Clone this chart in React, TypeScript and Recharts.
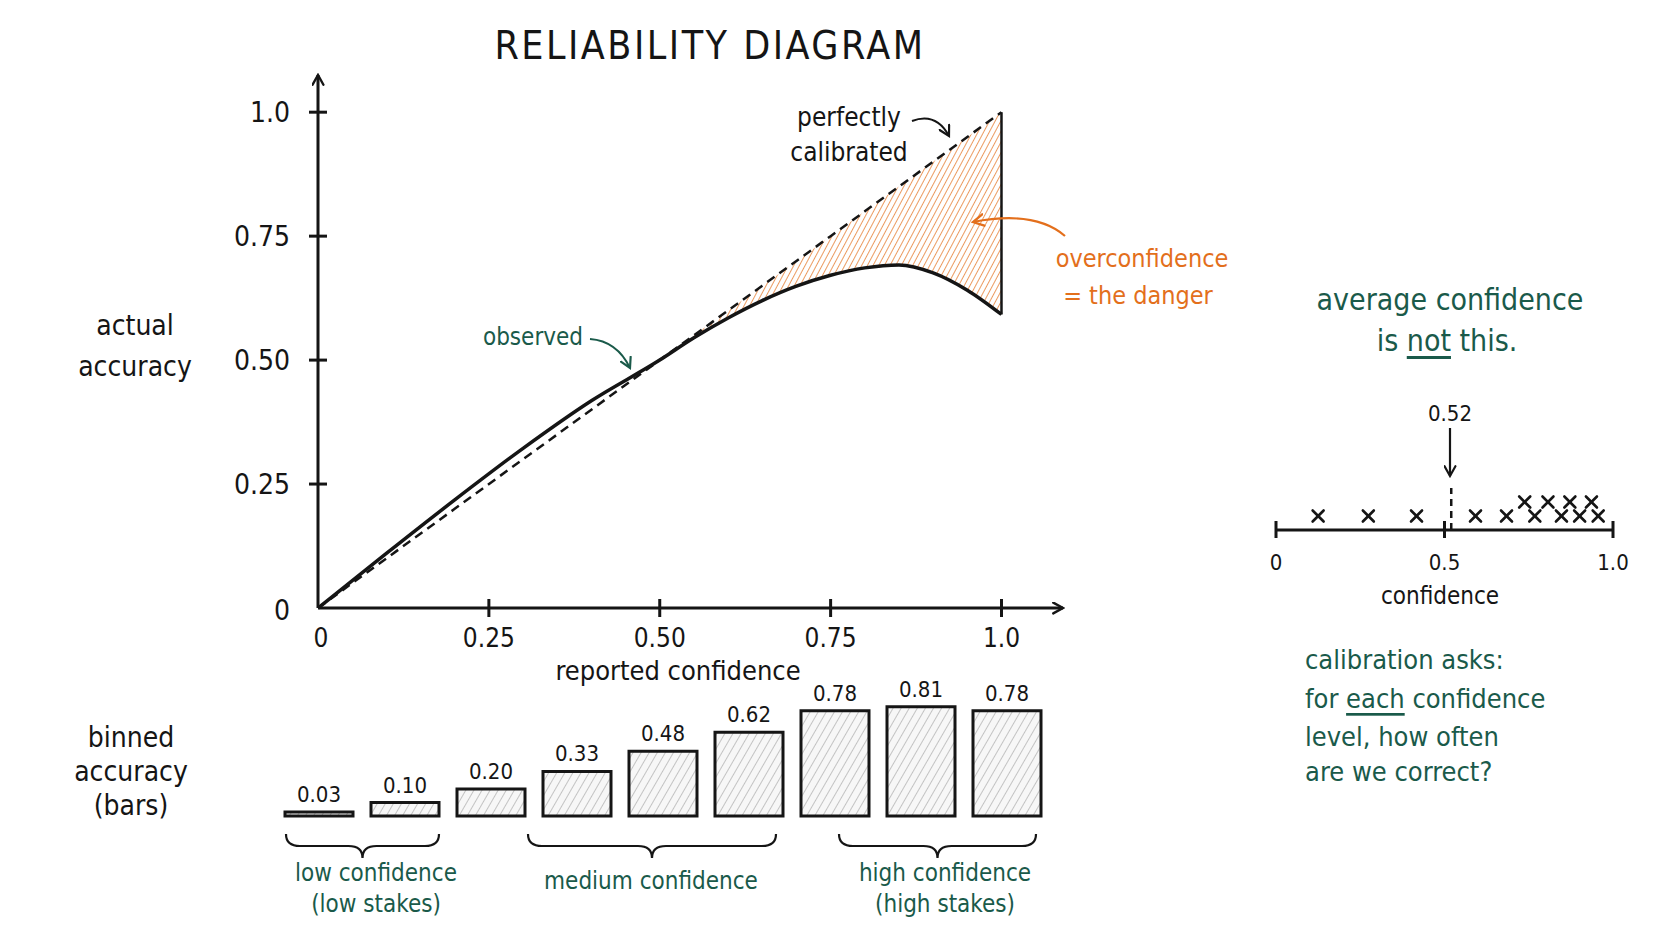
import React from 'react';
import {
  ComposedChart, Line, Area, XAxis, YAxis, ReferenceLine,
  BarChart, Bar, LabelList, ScatterChart, Scatter,
} from 'recharts';

// reliability curve
const confGrid = [0, 0.1, 0.2, 0.3, 0.4, 0.5, 0.55, 0.6, 0.65, 0.7, 0.75, 0.8, 0.85, 0.9, 0.95, 1.0];
const observedAcc = [0, 0.11, 0.218, 0.322, 0.418, 0.5, 0.545, 0.585, 0.62, 0.649, 0.671, 0.686, 0.692, 0.676, 0.641, 0.592];
const gapStart = 0.55;
const mainTicks = [0, 0.25, 0.5, 0.75, 1.0];
const mainTickLabels = ['0', '0.25', '0.50', '0.75', '1.0'];

// binned accuracy bars
const binNames = ['b1', 'b2', 'b3', 'b4', 'b5', 'b6', 'b7', 'b8', 'b9'];
const binAccuracy = [0.03, 0.1, 0.2, 0.33, 0.48, 0.62, 0.78, 0.81, 0.78];
const binLabels = ['0.03', '0.10', '0.20', '0.33', '0.48', '0.62', '0.78', '0.81', '0.78'];

// individual confidences (two stacked rows of x marks)
const rowOneConf = [0.125, 0.274, 0.417, 0.592, 0.684, 0.768, 0.847, 0.901, 0.956];
const rowTwoConf = [0.738, 0.807, 0.872, 0.936];
const meanConfidence = 0.52;
const dotTicks = [0, 0.5, 1.0];
const dotTickLabels = ['0', '0.5', '1.0'];

const INK = '#151515';
const TEAL = '#1a5a4a';
const ORANGE = '#e36f1c';
const FONT = "'Liberation Sans Narrow', 'DejaVu Sans Condensed', Roboto, sans-serif";

const mainData = confGrid.map((x, i) => ({
  x,
  diag: x,
  obs: observedAcc[i],
  gap: x >= gapStart ? [observedAcc[i], x] : undefined,
}));
const barData = binNames.map((name, i) => ({ name, acc: binAccuracy[i], label: binLabels[i] }));
const rowOne = rowOneConf.map((c) => ({ c, row: 1 }));
const rowTwo = rowTwoConf.map((c) => ({ c, row: 2 }));

const MainYTick = (props: any) => {
  const { x, y, payload } = props;
  const v = payload.value;
  const label = mainTickLabels[mainTicks.indexOf(v)];
  return (
    <g>
      {v > 0 && <line x1={x - 9} x2={x + 9} y1={y} y2={y} stroke={INK} strokeWidth={3} />}
      <text x={x - 28} y={y + (v === 0 ? 2 : 0)} textAnchor="end" dominantBaseline="central"
        fontSize={28} fontFamily={FONT} fill={INK}>{label}</text>
    </g>
  );
};

const MainXTick = (props: any) => {
  const { x, y, payload } = props;
  const v = payload.value;
  const label = mainTickLabels[mainTicks.indexOf(v)];
  return (
    <g>
      {v > 0 && <line x1={x} x2={x} y1={y - 9} y2={y + 9} stroke={INK} strokeWidth={3} />}
      <text x={x + (v === 0 ? 3 : 0)} y={y + 30} textAnchor="middle" dominantBaseline="central"
        fontSize={26} fontFamily={FONT} fill={INK}>{label}</text>
    </g>
  );
};

const DotXTick = (props: any) => {
  const { x, y, payload } = props;
  const v = payload.value;
  const label = dotTickLabels[dotTicks.indexOf(v)];
  return (
    <g>
      <line x1={x} x2={x} y1={y - 9} y2={y + 8} stroke={INK} strokeWidth={3} />
      <text x={x} y={y + 32} textAnchor="middle" dominantBaseline="central"
        fontSize={22} fontFamily={FONT} fill={INK}>{label}</text>
    </g>
  );
};

const Cross = (p: any) => (
  <g stroke={INK} strokeWidth={2.6} strokeLinecap="round">
    <line x1={p.cx - 5.5} y1={p.cy - 5.5} x2={p.cx + 5.5} y2={p.cy + 5.5} />
    <line x1={p.cx - 5.5} y1={p.cy + 5.5} x2={p.cx + 5.5} y2={p.cy - 5.5} />
  </g>
);

const T = (p: { x: number; y: number; size: number; color?: string; anchor?: string; children: React.ReactNode; spacing?: number }) => (
  <text x={p.x} y={p.y} fontSize={p.size} fill={p.color || INK} fontFamily={FONT}
    textAnchor={(p.anchor as any) || 'middle'} dominantBaseline="central" letterSpacing={p.spacing || 0}>
    {p.children}
  </text>
);

const brace = (x1: number, x2: number, y: number) => {
  const m = (x1 + x2) / 2;
  return `M ${x1} ${y} Q ${x1} ${y + 12} ${x1 + 14} ${y + 12} L ${m - 14} ${y + 12} Q ${m} ${y + 12} ${m} ${y + 24} Q ${m} ${y + 12} ${m + 14} ${y + 12} L ${x2 - 14} ${y + 12} Q ${x2} ${y + 12} ${x2} ${y}`;
};

const underline = { textDecoration: 'underline', textDecorationThickness: '3px', textUnderlineOffset: '6px' } as any;
const abs: React.CSSProperties = { position: 'absolute', left: 0, top: 0 };

export default function App() {
  return (
    <div style={{ position: 'absolute', left: 0, top: 0, width: 1672, height: 941, background: '#fff', overflow: 'hidden' }}>
      {/* reliability diagram */}
      <div style={abs}>
        <ComposedChart width={1672} height={700} data={mainData}
          margin={{ top: 75, right: 609, bottom: 32, left: 238 }}>
          <defs>
            <marker id="axisArrow" viewBox="0 0 12 12" refX="10" refY="6" markerWidth="13" markerHeight="13"
              markerUnits="userSpaceOnUse" orient="auto-start-reverse">
              <path d="M1,1 L10,6 L1,11" fill="none" stroke={INK} strokeWidth={2.2} strokeLinecap="round" />
            </marker>
            <pattern id="orangeHatch" width="5" height="5" patternUnits="userSpaceOnUse" patternTransform="rotate(28)">
              <line x1="0" y1="0" x2="0" y2="5" stroke={ORANGE} strokeWidth={1.4} />
            </pattern>
          </defs>
          <XAxis dataKey="x" type="number" domain={[0, 1.09]} ticks={mainTicks} height={60}
            axisLine={{ stroke: INK, strokeWidth: 3, markerEnd: 'url(#axisArrow)' } as any}
            tickLine={false} tickSize={0} tickMargin={0} tick={<MainXTick />} interval={0} />
          <YAxis type="number" domain={[0, 1.075]} ticks={mainTicks} width={80}
            axisLine={{ stroke: INK, strokeWidth: 3, markerStart: 'url(#axisArrow)' } as any}
            tickLine={false} tickSize={0} tickMargin={0} tick={<MainYTick />} interval={0} />
          <Area dataKey="gap" type="monotone" stroke="none" fill="url(#orangeHatch)" fillOpacity={1}
            isAnimationActive={false} activeDot={false} />
          <Line dataKey="diag" type="linear" stroke={INK} strokeWidth={2.5} strokeDasharray="9 6"
            dot={false} isAnimationActive={false} activeDot={false} />
          <Line dataKey="obs" type="monotone" stroke={INK} strokeWidth={3.5}
            dot={false} isAnimationActive={false} activeDot={false} />
          <ReferenceLine segment={[{ x: 1, y: observedAcc[observedAcc.length - 1] }, { x: 1, y: 1 }]}
            stroke={INK} strokeWidth={2.5} />
        </ComposedChart>
      </div>

      {/* binned accuracy bars */}
      <div style={abs}>
        <BarChart width={1672} height={880} data={barData} barCategoryGap={9}
          margin={{ top: 681, right: 602, bottom: 64, left: 263 }}>
          <defs>
            <pattern id="grayHatch" width="7" height="7" patternUnits="userSpaceOnUse" patternTransform="rotate(30)">
              <rect width="7" height="7" fill="#f7f7f7" />
              <line x1="0" y1="0" x2="0" y2="7" stroke="#999" strokeWidth={1.1} />
            </pattern>
          </defs>
          <XAxis dataKey="name" height={0} tick={false} tickLine={false}
            axisLine={{ stroke: INK, strokeWidth: 3 }} padding={{ left: 13, right: 20 }} />
          <YAxis hide domain={[0, 1]} />
          <Bar dataKey="acc" fill="url(#grayHatch)" stroke={INK} strokeWidth={3} isAnimationActive={false}>
            <LabelList dataKey="label" position="top" offset={10} fontSize={22} fontFamily={FONT} fill={INK} />
          </Bar>
        </BarChart>
      </div>

      {/* distribution of confidences */}
      <div style={abs}>
        <ScatterChart width={1672} height={941} margin={{ top: 474, right: 59, bottom: 331, left: 1276 }}>
          <XAxis dataKey="c" type="number" domain={[0, 1]} ticks={dotTicks} height={80}
            axisLine={{ stroke: INK, strokeWidth: 3 }} tickLine={false} tickSize={0} tickMargin={0}
            tick={<DotXTick />} interval={0} />
          <YAxis dataKey="row" type="number" domain={[0, 4]} hide />
          <ReferenceLine segment={[{ x: meanConfidence, y: 0 }, { x: meanConfidence, y: 3 }]}
            stroke={INK} strokeWidth={2.5} strokeDasharray="7 5" />
          <Scatter data={rowOne} shape={<Cross />} isAnimationActive={false} />
          <Scatter data={rowTwo} shape={<Cross />} isAnimationActive={false} />
        </ScatterChart>
      </div>

      {/* annotations */}
      <svg width={1672} height={941} style={{ ...abs, pointerEvents: 'none' }}>
        <defs>
          <marker id="noteArrowInk" viewBox="0 0 12 12" refX="10" refY="6" markerWidth="13" markerHeight="13"
            markerUnits="userSpaceOnUse" orient="auto">
            <path d="M1,1 L10,6 L1,11" fill="none" stroke={INK} strokeWidth={2} strokeLinecap="round" />
          </marker>
          <marker id="noteArrowTeal" viewBox="0 0 12 12" refX="10" refY="6" markerWidth="13" markerHeight="13"
            markerUnits="userSpaceOnUse" orient="auto">
            <path d="M1,1 L10,6 L1,11" fill="none" stroke={TEAL} strokeWidth={2} strokeLinecap="round" />
          </marker>
          <marker id="noteArrowOrange" viewBox="0 0 12 12" refX="10" refY="6" markerWidth="14" markerHeight="14"
            markerUnits="userSpaceOnUse" orient="auto">
            <path d="M1,1 L10,6 L1,11" fill="none" stroke={ORANGE} strokeWidth={2} strokeLinecap="round" />
          </marker>
        </defs>

        <T x={710} y={45} size={39} spacing={2.5}>RELIABILITY  DIAGRAM</T>

        <T x={135} y={325} size={28}>actual</T>
        <T x={135} y={366} size={28}>accuracy</T>
        <T x={678} y={670} size={27}>reported confidence</T>

        <T x={849} y={117} size={26}>perfectly</T>
        <T x={849} y={152} size={26}>calibrated</T>
        <path d="M 912 121 Q 936 112 949 136" fill="none" stroke={INK} strokeWidth={2} markerEnd="url(#noteArrowInk)" />

        <T x={533} y={337} size={24} color={TEAL}>observed</T>
        <path d="M 590 339 Q 617 341 630 368" fill="none" stroke={TEAL} strokeWidth={2} markerEnd="url(#noteArrowTeal)" />

        <T x={1142} y={258} size={25} color={ORANGE}>overconfidence</T>
        <T x={1138} y={295} size={25} color={ORANGE}>= the danger</T>
        <path d="M 1065 236 Q 1035 210 973 222" fill="none" stroke={ORANGE} strokeWidth={2.2} markerEnd="url(#noteArrowOrange)" />

        <T x={131} y={737} size={28}>binned</T>
        <T x={131} y={771} size={28}>accuracy</T>
        <T x={131} y={805} size={28}>(bars)</T>

        <path d={brace(286, 439, 834)} fill="none" stroke={INK} strokeWidth={2.2} />
        <path d={brace(528, 776, 834)} fill="none" stroke={INK} strokeWidth={2.2} />
        <path d={brace(839, 1036, 834)} fill="none" stroke={INK} strokeWidth={2.2} />
        <T x={376} y={873} size={24} color={TEAL}>low confidence</T>
        <T x={376} y={904} size={24} color={TEAL}>(low stakes)</T>
        <T x={651} y={881} size={24} color={TEAL}>medium confidence</T>
        <T x={945} y={873} size={24} color={TEAL}>high confidence</T>
        <T x={945} y={904} size={24} color={TEAL}>(high stakes)</T>

        <T x={1450} y={299} size={30} color={TEAL}>average confidence</T>
        <text x={1447} y={340} fontSize={30} fill={TEAL} fontFamily={FONT} textAnchor="middle" dominantBaseline="central">
          is <tspan style={underline}>not</tspan> this.
        </text>

        <T x={1450} y={413} size={22}>0.52</T>
        <path d="M 1450 428 L 1450 476" fill="none" stroke={INK} strokeWidth={2.2} markerEnd="url(#noteArrowInk)" />
        <T x={1440} y={596} size={24}>confidence</T>

        <T x={1305} y={659} size={27} color={TEAL} anchor="start">calibration  asks:</T>
        <text x={1305} y={698} fontSize={27} fill={TEAL} fontFamily={FONT} dominantBaseline="central">
          for <tspan style={underline}>each</tspan> confidence
        </text>
        <T x={1305} y={736} size={27} color={TEAL} anchor="start">level, how often</T>
        <T x={1305} y={771} size={27} color={TEAL} anchor="start">are we correct?</T>
      </svg>
    </div>
  );
}
